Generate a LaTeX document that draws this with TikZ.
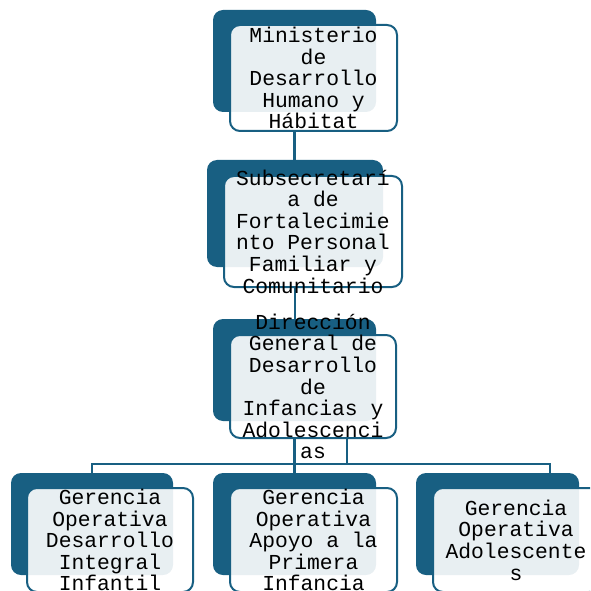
\documentclass[tikz,border=0pt]{standalone}
\usepackage{fontspec}
\setmonofont{Liberation Mono}
\definecolor{dk}{RGB}{24,95,130}
\begin{document}
\begin{tikzpicture}[x=0.75pt,y=-0.75pt,
  darkbox/.style 2 args={fill=dk, draw=none, rounded corners=7.5pt, minimum width=#1*0.75pt, minimum height=#2*0.75pt, inner sep=0pt},
  lightbox/.style 2 args={fill=white, fill opacity=0.9, draw=dk, line width=1.5pt, rounded corners=7.5pt, minimum width=#1*0.75pt, minimum height=#2*0.75pt, inner sep=0pt},
  txt/.style={align=center, inner sep=0pt, text=black, font=\fontsize{16}{16.2}\selectfont\ttfamily},
  conn/.style={draw=dk, line width=1.6pt}]
\useasboundingbox (0,0) rectangle (590,591);
\clip (0,0) rectangle (590,591);
% dark back boxes
\node[darkbox={163}{102}] (d1) at (294.5,61) {};
\node[darkbox={176}{107}] (d2) at (295,213.5) {};
\node[darkbox={163}{102}] (d3) at (294.5,370) {};
\node[darkbox={162}{102}] (d4) at (92,524) {};
\node[darkbox={163}{102}] (d5) at (294.5,524) {};
\node[darkbox={163}{102}] (d6) at (497.5,524) {};
% connectors
\coordinate (bus) at (294.5,464);
\coordinate (bR) at (550,464);
\coordinate (bM) at (347,464);
\draw[conn] (294.5,130) -- (d2.north -| d1.center);
\draw[conn] (295,286) -- (d3.north -| d2.center);
\draw[conn] (294.5,437) -- (d5.north -| d3.center);
\draw[conn] (bM |- 0,437) -- (bM);
\draw[conn] (d4.north) |- (bR) -- (bR |- d6.north);
% light front boxes
\node[lightbox={167}{106}] (l1) at (313.5,78) {};
\node[lightbox={178}{111}] (l2) at (313,231.5) {};
\node[lightbox={166}{103}] (l3) at (313,386.5) {};
\node[lightbox={166}{104}] (l4) at (110,540) {};
\node[lightbox={167}{104}] (l5) at (313.5,540) {};
\node[lightbox={166}{104}] (l6) at (516,540) {};
% texts
\node[txt] (t1) at (l1) {Ministerio\\de\\Desarrollo\\Humano y\\Hábitat};
\node[txt] (t2) at (l2) {Subsecretarí\\a de\\Fortalecimie\\nto Personal\\Familiar y\\Comunitario};
\node[txt] (t3) at (l3) {Dirección\\General de\\Desarrollo\\de\\Infancias y\\Adolescenci\\as};
\node[txt] (t4) at (l4) {Gerencia\\Operativa\\Desarrollo\\Integral\\Infantil};
\node[txt] (t5) at (l5) {Gerencia\\Operativa\\Apoyo a la\\Primera\\Infancia};
\node[txt] (t6) at (l6) {Gerencia\\Operativa\\Adolescente\\s};
\end{tikzpicture}
\end{document}
